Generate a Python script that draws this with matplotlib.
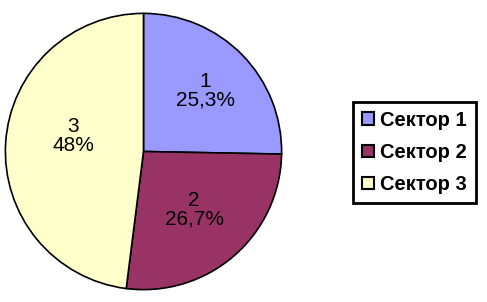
import numpy as np
import matplotlib.pyplot as plt
from matplotlib.patches import Patch

# данные
sectors = ['Сектор 1', 'Сектор 2', 'Сектор 3']
nums = ['1', '2', '3']
shares = [25.3, 26.7, 48.0]
pct_labels = ['25,3%', '26,7%', '48%']
colors = ['#9999FF', '#993366', '#FFFFCC']

plt.rcParams['font.family'] = ['Liberation Sans', 'DejaVu Sans']

fig = plt.figure(figsize=(4.87, 3.02), dpi=100)
ax = fig.add_axes([3 / 487, 11 / 302, 281 / 487, 279 / 302])

labels = [n + '\n' + p for n, p in zip(nums, pct_labels)]
wedges, texts = ax.pie(shares, colors=colors, startangle=90, counterclock=False,
                       labels=labels, labeldistance=0.6,
                       wedgeprops=dict(edgecolor='black', linewidth=1.2),
                       textprops=dict(fontsize=15, ha='center', va='center',
                                      linespacing=1.0))

# подписи ближе к центру, как в Excel
dist = [0.63, 0.56, 0.52]
turn = [0, 0, -9]
for w, t, d, a in zip(wedges, texts, dist, turn):
    th = np.deg2rad((w.theta1 + w.theta2) / 2 + a)
    t.set_position((d * np.cos(th), d * np.sin(th)))

ax.set_xlim(-1.01, 1.01)
ax.set_ylim(-1.01, 1.01)
ax.set_aspect('equal')

handles = [Patch(facecolor=c, edgecolor='black', linewidth=1.5) for c in colors]
leg = fig.legend(handles, sectors, loc='center',
                 bbox_to_anchor=(414 / 487, 1 - 152.5 / 302),
                 prop=dict(size=14.5, weight='bold'),
                 fancybox=False, framealpha=1, edgecolor='black',
                 handlelength=0.6, handleheight=0.6, handletextpad=0.3,
                 labelspacing=0.65, borderpad=0.45, borderaxespad=0)
leg.get_frame().set_linewidth(2)

fig.savefig('out.png', dpi=100)
